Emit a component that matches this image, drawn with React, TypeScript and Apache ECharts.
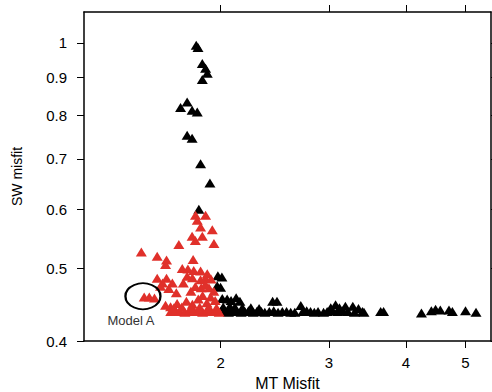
import React, { useEffect, useRef } from "react";
import * as echarts from "echarts";

const xTicks = [2, 3, 4, 5];
const yTicks = [0.4, 0.5, 0.6, 0.7, 0.8, 0.9, 1];

const blackPoints: [number, number][] = [
  [1.826, 0.993], [1.838, 0.986],
  [1.868, 0.939], [1.891, 0.925], [1.903, 0.911], [1.868, 0.894],
  [1.765, 0.834], [1.722, 0.82], [1.798, 0.813], [1.833, 0.809],
  [1.765, 0.753], [1.798, 0.746],
  [1.856, 0.69],
  [1.922, 0.65],
  [1.844, 0.6],
  [1.98, 0.489], [2.01, 0.487], [1.975, 0.474], [2.0, 0.472],
  [2.013, 0.456], [2.05, 0.455], [2.08, 0.453], [2.12, 0.457], [2.15, 0.452],
  [2.43, 0.452], [2.47, 0.452],
  [2.7, 0.446],
  [3.02, 0.443], [3.075, 0.447], [3.12, 0.443], [3.19, 0.445], [3.28, 0.445], [3.35, 0.442], [3.4, 0.438],
  [3.64, 0.438], [3.68, 0.438],
  [4.24, 0.436], [4.4, 0.439], [4.47, 0.441], [4.55, 0.44], [4.7, 0.44], [4.76, 0.438], [5.0, 0.439], [5.2, 0.437],
  [2.0, 0.438], [2.03, 0.439], [2.06, 0.437], [2.09, 0.438], [2.12, 0.439], [2.16, 0.437],
  [2.19, 0.438], [2.22, 0.439], [2.26, 0.437], [2.29, 0.438], [2.33, 0.438], [2.36, 0.437],
  [2.4, 0.438], [2.44, 0.439], [2.48, 0.437], [2.52, 0.438], [2.56, 0.438], [2.6, 0.437], [2.64, 0.437],
  [2.02, 0.444], [2.07, 0.445], [2.11, 0.444], [2.17, 0.443], [2.24, 0.443], [2.31, 0.442],
  [2.72, 0.438], [2.76, 0.439], [2.8, 0.438], [2.84, 0.437], [2.88, 0.438],
  [2.94, 0.437], [2.98, 0.438], [3.04, 0.439], [3.1, 0.438], [3.16, 0.439], [3.22, 0.438], [3.3, 0.437], [3.42, 0.437],
];

const redPoints: [number, number][] = [
  [1.821, 0.589], [1.891, 0.589], [1.833, 0.58], [1.856, 0.568], [1.939, 0.563],
  [1.798, 0.552], [1.868, 0.552], [1.82, 0.545], [1.951, 0.54], [1.711, 0.538],
  [1.487, 0.526], [1.578, 0.519], [1.634, 0.513], [1.805, 0.514], [1.628, 0.506],
  [1.733, 0.5], [1.77, 0.499], [1.809, 0.497], [1.856, 0.496], [1.903, 0.492],
  [1.765, 0.488], [1.8, 0.486], [1.856, 0.483], [1.89, 0.485], [1.93, 0.484],
  [1.578, 0.485], [1.634, 0.485], [1.61, 0.478], [1.598, 0.4735], [1.648, 0.47], [1.695, 0.464],
  [1.82, 0.473], [1.86, 0.471], [1.915, 0.471], [1.95, 0.466], [1.87, 0.46], [1.927, 0.458],
  [1.84, 0.455], [1.96, 0.453], [1.74, 0.478], [1.79, 0.466], [1.89, 0.476], [1.67, 0.478],
  [1.503, 0.458], [1.532, 0.458], [1.562, 0.4565],
  [1.628, 0.4465], [1.659, 0.4443], [1.7, 0.449], [1.76, 0.452], [1.8, 0.448], [1.9, 0.45],
  [1.66, 0.438], [1.69, 0.439], [1.72, 0.438], [1.75, 0.437], [1.78, 0.438], [1.81, 0.439],
  [1.84, 0.438], [1.87, 0.437], [1.9, 0.438], [1.93, 0.439], [1.96, 0.438], [1.99, 0.437],
  [1.68, 0.443], [1.73, 0.444], [1.79, 0.443], [1.85, 0.444], [1.91, 0.443], [1.97, 0.443],
];

const modelA: [number, number][] = [[1.496, 0.459]];
const modelALabel = "Model A";
const xName = "MT Misfit";
const yName = "SW misfit";

const FONT = "Liberation Sans, Arial, Helvetica, sans-serif";

export default function App() {
  const ref = useRef<HTMLDivElement>(null);
  useEffect(() => {
    if (!ref.current) return;
    const chart = echarts.init(ref.current, undefined, { renderer: "svg" });
    const line = { show: true, lineStyle: { color: "#000", width: 1.5 } };
    const xBase = {
      type: "log",
      logBase: 10,
      min: 1.2,
      max: 5.5,
      axisLine: line,
      splitLine: { show: false },
      minorTick: { show: false },
      axisTick: { show: true, inside: false, length: 7, customValues: xTicks, lineStyle: { color: "#000", width: 1 } },
    };
    const yBase = {
      type: "log",
      logBase: 10,
      min: 0.4,
      max: 1.1,
      axisLine: line,
      splitLine: { show: false },
      minorTick: { show: false },
      axisTick: { show: true, inside: false, length: 7, customValues: yTicks, lineStyle: { color: "#000", width: 1 } },
    };
    chart.setOption({
      animation: false,
      grid: { left: 84, right: 1, top: 12, bottom: 51, containLabel: false, outerBoundsMode: "none" },
      xAxis: [
        {
          ...xBase,
          position: "bottom",
          name: xName,
          nameLocation: "middle",
          nameGap: 34,
          nameTextStyle: { fontSize: 16, color: "#000", fontFamily: FONT },
          axisLabel: {
            customValues: xTicks,
            margin: 14,
            fontSize: 15,
            color: "#000",
            fontFamily: FONT,
            formatter: (v: number) => String(Math.round(v)),
          },
        },
        { ...xBase, position: "top", axisLabel: { show: false } },
      ],
      yAxis: [
        {
          ...yBase,
          position: "left",
          name: yName,
          nameLocation: "middle",
          nameGap: 60,
          nameTextStyle: { fontSize: 14, color: "#000", fontFamily: FONT },
          axisLabel: {
            customValues: yTicks,
            margin: 17,
            fontSize: 15,
            color: "#000",
            fontFamily: FONT,
            formatter: (v: number) => String(Math.round(v * 10) / 10),
          },
        },
        { ...yBase, position: "right", axisLabel: { show: false } },
      ],
      series: [
        {
          type: "scatter",
          xAxisIndex: 0,
          yAxisIndex: 0,
          data: blackPoints,
          symbol: "triangle",
          symbolSize: [11, 9],
          itemStyle: { color: "#000", opacity: 1 },
          silent: true,
        },
        {
          type: "scatter",
          xAxisIndex: 0,
          yAxisIndex: 0,
          data: redPoints,
          symbol: "triangle",
          symbolSize: [11, 9],
          itemStyle: { color: "#e0302a", opacity: 1 },
          silent: true,
        },
        {
          type: "scatter",
          xAxisIndex: 0,
          yAxisIndex: 0,
          data: modelA,
          symbol: "circle",
          symbolSize: [35, 26],
          itemStyle: { color: "rgba(0,0,0,0)", borderColor: "#000", borderWidth: 2, opacity: 1 },
          label: {
            show: true,
            position: "bottom",
            distance: 4,
            offset: [-12, 0],
            formatter: modelALabel,
            fontSize: 13,
            color: "#333",
            fontFamily: FONT,
          },
          silent: true,
        },
      ],
    });
    return () => chart.dispose();
  }, []);
  return <div ref={ref} style={{ width: 492, height: 392, position: "absolute", left: 0, top: 0 }} />;
}
